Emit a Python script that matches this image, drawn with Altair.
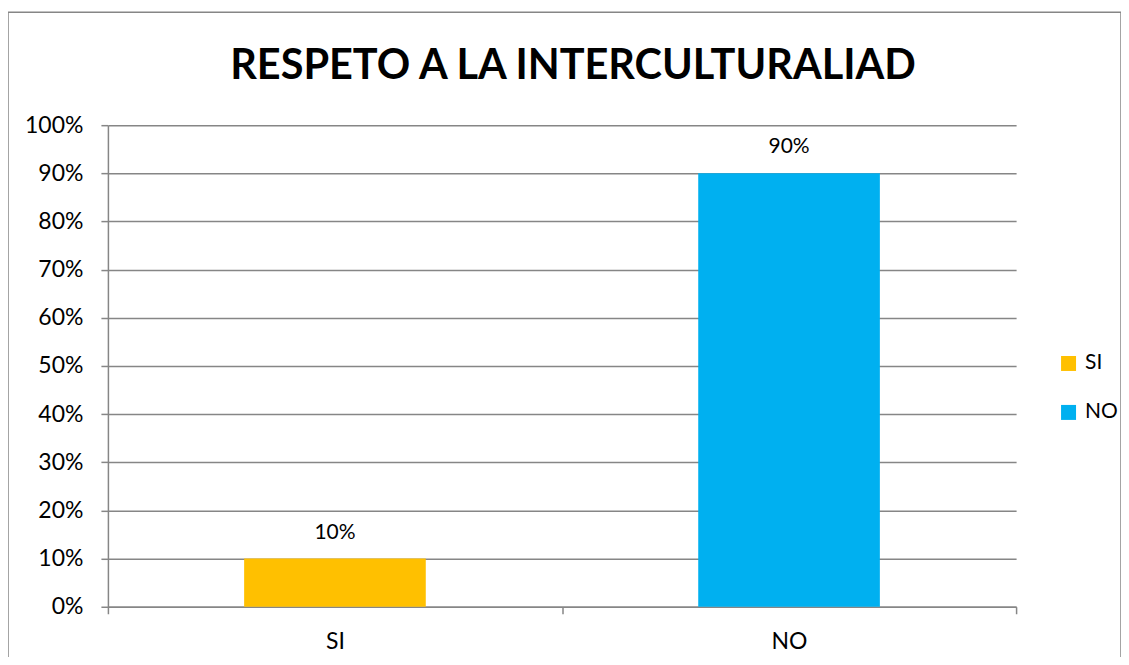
import altair as alt
import pandas as pd

categories = ["SI", "NO"]
values = [0.10, 0.90]
labels = ["10%", "90%"]
colors = ["#FFC000", "#00B0F0"]

df = pd.DataFrame({"cat": categories, "val": values, "lab": labels})

FONT = "Lato"
GRAY = "#868686"

x = alt.X(
    "cat:N",
    sort=categories,
    scale=alt.Scale(paddingInner=0, paddingOuter=0),
    axis=alt.Axis(title=None, labelAngle=0, tickBand="extent", tickSize=7,
                  labelPadding=17, grid=False),
)
y = alt.Y(
    "val:Q",
    scale=alt.Scale(domain=[0, 1]),
    axis=alt.Axis(title=None, format="%", tickCount=11, values=[i / 10 for i in range(11)],
                  tickSize=7, labelPadding=18, grid=True),
)
color = alt.Color(
    "cat:N",
    sort=categories,
    scale=alt.Scale(domain=categories, range=colors),
    legend=alt.Legend(title=None, orient="none", legendX=951, legendY=228,
                      symbolType="square", symbolSize=225, symbolStrokeWidth=0,
                      labelFontSize=21, labelFont=FONT, labelColor="#000000",
                      rowPadding=27, labelOffset=6),
)

bars = alt.Chart(df).mark_bar(width=alt.RelativeBandSize(0.4)).encode(x=x, y=y, color=color)
text = alt.Chart(df).mark_text(dy=-26, fontSize=21, font=FONT, color="#000000").encode(
    x=alt.X("cat:N", sort=categories), y="val:Q", text="lab:N"
)
border = alt.Chart(pd.DataFrame({"k": [0]})).mark_rect(
    fill=None, stroke=GRAY, strokeWidth=1.5
).encode(x=alt.value(-100), x2=alt.value(1014), y=alt.value(-113), y2=alt.value(560))

chart = alt.layer(bars, text, border).properties(
    width=909,
    height=482,
    title=alt.TitleParams("RESPETO A LA INTERCULTURALIAD", fontSize=41.5, fontWeight="bold",
                          font=FONT, color="#000000", anchor="middle", offset=-76, dx=11),
    autosize=alt.AutoSizeParams(type="none"),
    padding={"left": 100, "top": 117, "right": 105, "bottom": 50},
).configure_view(stroke=None).configure_axis(
    domainColor=GRAY, tickColor=GRAY, gridColor=GRAY, labelFontSize=23, labelFont=FONT,
    labelColor="#000000", domainWidth=1.5, gridWidth=1.5, tickWidth=1.5,
)

chart.save("out.html", embed_options={"renderer": "svg", "actions": False})
